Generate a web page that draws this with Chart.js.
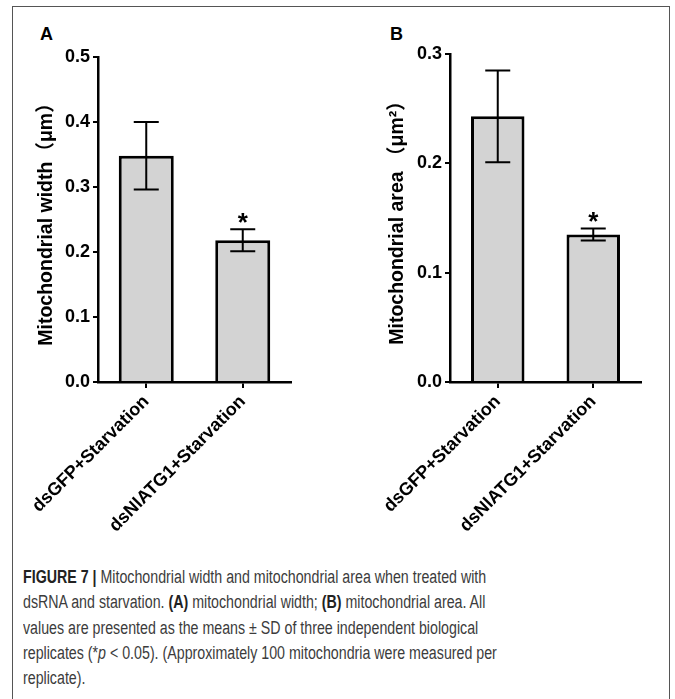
<!DOCTYPE html>
<html>
<head>
<meta charset="utf-8">
<script src="https://cdn.jsdelivr.net/npm/chart.js@4.4.0/dist/chart.umd.min.js"></script>
<style>
  html, body { margin: 0; padding: 0; background: #fff; }
  body { width: 675px; height: 699px; position: relative; overflow: hidden; }
  #frame { position: absolute; left: 12px; top: 6px; width: 656px; height: 720px; border: 1px solid #555; }
  .panel-letter { position: absolute; top: 25px; font: bold 18px "Liberation Sans", Arial, sans-serif; line-height: 18px; color: #000; }
  canvas { position: absolute; top: 0; }
  #caption {
    position: absolute; left: 23px; top: 565px;
    font-family: "Liberation Sans", Arial, sans-serif;
    font-size: 18px; line-height: 25.3px; color: #3c3c3c; white-space: nowrap;
    transform: scaleX(0.79); transform-origin: 0 0;
  }
  #caption b { color: #222; }
</style>
</head>
<body>
<div id="frame"></div>
<div class="panel-letter" style="left:40px">A</div>
<div class="panel-letter" style="left:390px">B</div>
<canvas id="chart-width" width="335" height="545" style="left:0"></canvas>
<canvas id="chart-area" width="340" height="545" style="left:335px"></canvas>
<div id="caption">
<b>FIGURE 7 |</b> Mitochondrial width and mitochondrial area when treated with<br>
dsRNA and starvation. <b>(A)</b> mitochondrial width; <b>(B)</b> mitochondrial area. All<br>
values are presented as the means ± SD of three independent biological<br>
replicates (*<i>p</i> &lt; 0.05). (Approximately 100 mitochondria were measured per<br>
replicate).
</div>
<script>
const groups = ['dsGFP+Starvation', 'dsNlATG1+Starvation'];

// panel A: mitochondrial width (um)
const widthMeans = [0.348, 0.218];
const widthSD = [0.052, 0.017];
const widthMarks = ['', '*'];
const widthMax = 0.5;

// panel B: mitochondrial area (um^2)
const areaMeans = [0.243, 0.135];
const areaSD = [0.042, 0.0055];
const areaMarks = ['', '*'];
const areaMax = 0.3;

const tickFont = { family: '"Liberation Sans", Arial, sans-serif', size: 18, weight: 'bold' };
const titleFont = { family: '"Liberation Sans", Arial, "Noto Sans CJK SC", sans-serif', size: 19.5, weight: 'bold' };

function makeErrorBars(means, sds, marks) {
    return {
        id: 'errorBars',
        afterDatasetsDraw(chart) {
            const ctx = chart.ctx;
            const yScale = chart.scales.y;
            const meta = chart.getDatasetMeta(0);
            ctx.save();
            ctx.strokeStyle = '#000';
            ctx.fillStyle = '#000';
            ctx.lineWidth = 2;
            meta.data.forEach((bar, i) => {
                const top = yScale.getPixelForValue(means[i] + sds[i]);
                const bottom = yScale.getPixelForValue(means[i] - sds[i]);
                const cap = 12.5;
                ctx.beginPath();
                ctx.moveTo(bar.x, top);
                ctx.lineTo(bar.x, bottom);
                ctx.moveTo(bar.x - cap, top);
                ctx.lineTo(bar.x + cap, top);
                ctx.moveTo(bar.x - cap, bottom);
                ctx.lineTo(bar.x + cap, bottom);
                ctx.stroke();
                if (marks[i]) {
                    ctx.font = 'bold 26px "Liberation Sans", Arial, sans-serif';
                    ctx.textAlign = 'center';
                    ctx.textBaseline = 'alphabetic';
                    const m = ctx.measureText(marks[i]);
                    const cy = top - 11;
                    ctx.fillText(marks[i], bar.x, cy + (m.actualBoundingBoxAscent - m.actualBoundingBoxDescent) / 2);
                }
            });
            ctx.restore();
        }
    };
}

function makePanel(canvasId, cfg) {
    new Chart(document.getElementById(canvasId), {
        type: 'bar',
        data: {
            labels: groups,
            datasets: [{
                data: cfg.means,
                backgroundColor: '#d3d3d3',
                borderColor: '#000',
                borderWidth: 3,
                borderSkipped: 'start',
                barPercentage: cfg.barPct,
                categoryPercentage: 1
            }]
        },
        options: {
            responsive: false,
            animation: false,
            devicePixelRatio: 1,
            layout: { padding: cfg.padding },
            plugins: {
                legend: { display: false },
                tooltip: { enabled: false }
            },
            scales: {
                x: {
                    grid: { offset: false, drawOnChartArea: false, color: '#000', lineWidth: 2, tickLength: 6 },
                    border: { color: '#000', width: 2.5 },
                    ticks: { color: '#000', font: tickFont, maxRotation: 45, minRotation: 45, autoSkip: false },
                    afterFit: function(scale) { scale.height = 155; }
                },
                y: {
                    min: 0,
                    max: cfg.max,
                    ticks: {
                        stepSize: 0.1,
                        color: '#000',
                        font: tickFont,
                        padding: 3,
                        callback: function(value) { return value.toFixed(1); }
                    },
                    grid: { drawOnChartArea: false, color: '#000', lineWidth: 2, tickLength: 5 },
                    border: { color: '#000', width: 2.5 },
                    title: {
                        display: true,
                        text: cfg.title,
                        color: '#000',
                        font: titleFont,
                        padding: { top: cfg.titlePad, bottom: 0 }
                    },
                    afterFit: function(scale) { scale.width = cfg.yWidth; }
                }
            }
        },
        plugins: [makeErrorBars(cfg.means, cfg.sds, cfg.marks)]
    });
}

document.addEventListener('DOMContentLoaded', function() {
    makePanel('chart-width', {
        means: widthMeans, sds: widthSD, marks: widthMarks, max: widthMax,
        title: 'Mitochondrial width（μm）',
        padding: { top: 57, right: 44, left: 30, bottom: 8 },
        yWidth: 68, titlePad: 5, barPct: 0.57
    });
    makePanel('chart-area', {
        means: areaMeans, sds: areaSD, marks: areaMarks, max: areaMax,
        title: 'Mitochondrial area （μm²）',
        padding: { top: 54, right: 34, left: 45, bottom: 8 },
        yWidth: 70, titlePad: 6, barPct: 0.56
    });
});
</script>
</body>
</html>
